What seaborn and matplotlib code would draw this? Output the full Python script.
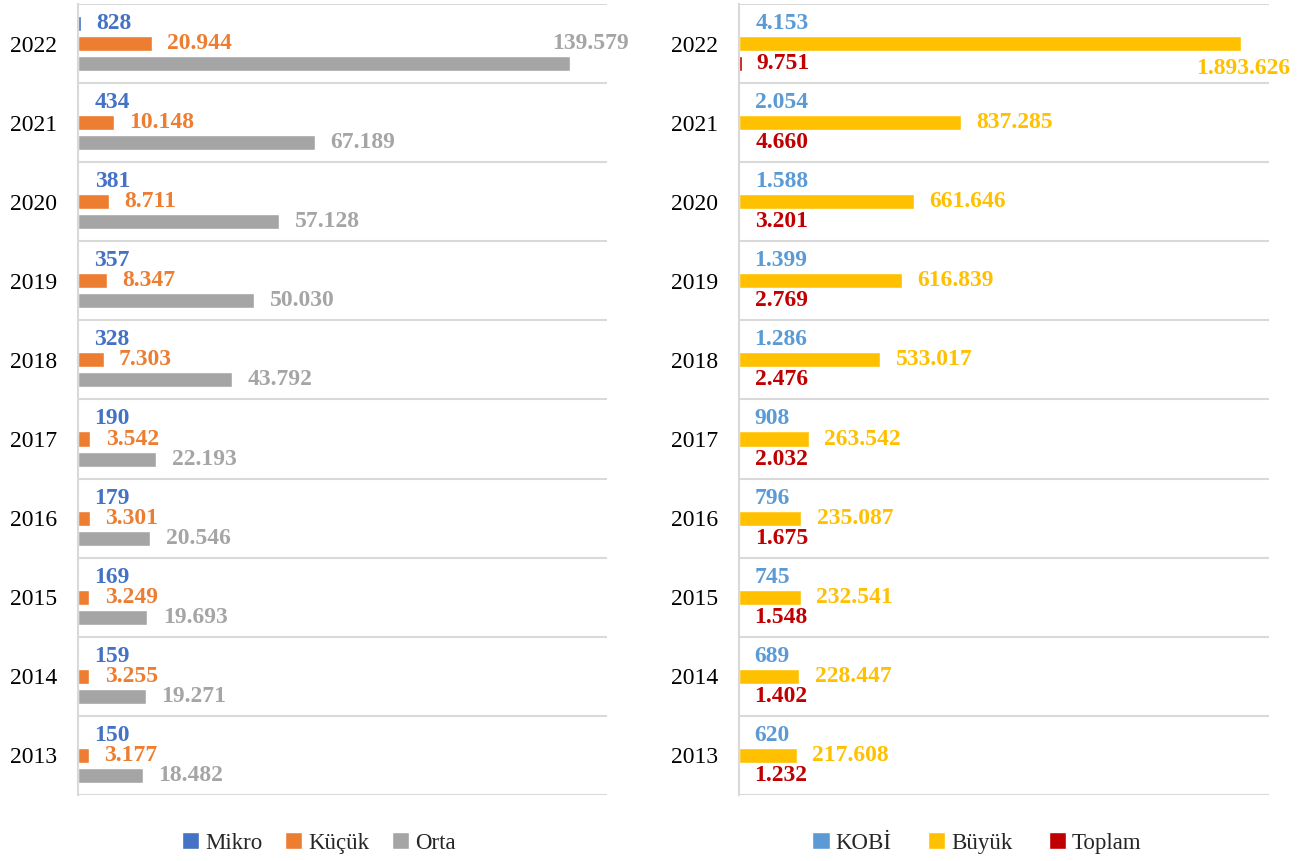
import numpy as np
import pandas as pd
import matplotlib
matplotlib.use("Agg")
import matplotlib.pyplot as plt
import seaborn as sns

# Data
years = ["2022", "2021", "2020", "2019", "2018", "2017", "2016", "2015", "2014", "2013"]

mikro = [828, 434, 381, 357, 328, 190, 179, 169, 159, 150]
kucuk = [20944, 10148, 8711, 8347, 7303, 3542, 3301, 3249, 3255, 3177]
orta = [139579, 67189, 57128, 50030, 43792, 22193, 20546, 19693, 19271, 18482]

kobi = [4153, 2054, 1588, 1399, 1286, 908, 796, 745, 689, 620]
buyuk = [1893626, 837285, 661646, 616839, 533017, 263542, 235087, 232541, 228447, 217608]
toplam = [9751, 4660, 3201, 2769, 2476, 2032, 1675, 1548, 1402, 1232]

left_series = ["Mikro", "Küçük", "Orta"]
right_series = ["KOBİ", "Büyük", "Toplam"]
left_colors = ["#4472C4", "#ED7D31", "#A5A5A5"]
right_colors = ["#5B9BD5", "#FFC000", "#C00000"]

sns.set_theme(style="white")
plt.rcParams["font.family"] = ["Liberation Serif", "DejaVu Serif"]


def tr_fmt(v):
    return f"{v:,}".replace(",", ".")


def long_df(series_names, values):
    rows = []
    for name, vals in zip(series_names, values):
        for y, v in zip(years, vals):
            rows.append({"year": y, "series": name, "value": v})
    return pd.DataFrame(rows)


def draw_panel(ax, df, names, colors, xmax, special):
    sns.barplot(data=df, y="year", x="value", hue="series", order=years,
                hue_order=names, palette=colors, orient="h", width=0.76,
                gap=0.25, saturation=1, ax=ax, legend=True, errorbar=None)
    ax.set_xlim(0, xmax)
    ax.set_ylim(len(years) - 0.5, -0.5)
    ax.set_xlabel("")
    ax.set_ylabel("")
    ax.set_xticks([])
    ax.tick_params(axis="y", length=0, pad=15, labelsize=17, labelcolor="black")
    ax.set_yticks(np.arange(-0.5, len(years), 1), minor=True)
    ax.grid(which="minor", axis="y", color="#D9D9D9", lw=1.5)
    ax.tick_params(axis="y", which="minor", length=0)
    for s in ["top", "right", "bottom"]:
        ax.spines[s].set_visible(False)
    ax.spines["left"].set_color("#D9D9D9")
    ax.spines["left"].set_linewidth(1.5)

    for i, (cont, col) in enumerate(zip(ax.containers, colors)):
        vals = df[df["series"] == names[i]].set_index("year").loc[years, "value"].tolist()
        labels = []
        for j, v in enumerate(vals):
            if (i, j) in special:
                labels.append("")
            else:
                labels.append(tr_fmt(v))
        ax.bar_label(cont, labels=labels, padding=11, color=col,
                     fontweight="bold", fontsize=17)
        for (si, sj), (dx, dy) in special.items():
            if si == i:
                ax.annotate(tr_fmt(vals[sj]), xy=(vals[sj], sj), xytext=(dx, dy),
                            textcoords="offset points", ha="right", va="center",
                            color=col, fontweight="bold", fontsize=17,
                            annotation_clip=False)


fig = plt.figure(figsize=(13.06, 8.61), dpi=100)
ax1 = fig.add_axes([0.0597, 0.0767, 0.405, 0.9187])
ax2 = fig.add_axes([0.5658, 0.0767, 0.4058, 0.9187])

df_left = long_df(left_series, [mikro, kucuk, orta])
df_right = long_df(right_series, [kobi, buyuk, toplam])

draw_panel(ax1, df_left, left_series, left_colors, 150000, {(2, 0): (42, 0)})
draw_panel(ax2, df_right, right_series, right_colors, 2000000, {(1, 0): (36, -18)})

for ax, xc, cs in [(ax1, 319 / 1306, 1.0), (ax2, 977 / 1306, 1.6)]:
    handles, labels = ax.get_legend_handles_labels()
    ax.get_legend().remove()
    fig.legend(handles, labels, loc="center", bbox_to_anchor=(xc, 0.021),
               ncol=3, frameon=False, fontsize=16.5, handlelength=0.75,
               handleheight=0.75, handletextpad=0.25, columnspacing=cs)

fig.savefig("out.png", dpi=100)
